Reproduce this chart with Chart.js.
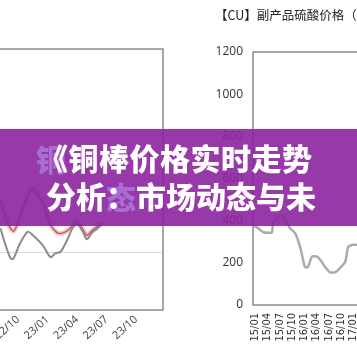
<!DOCTYPE html>
<html>
<head>
<meta charset="utf-8">
<script src="https://cdn.jsdelivr.net/npm/chart.js@4/dist/chart.umd.min.js"></script>
<style>
  html, body { margin: 0; padding: 0; background: #fff; }
  body { width: 357px; height: 357px; overflow: hidden; position: relative; }
  #leftChart { position: absolute; left: -50px; top: 0; }
  #rightChart { position: absolute; left: 180px; top: 0; }
  .banner {
    position: absolute; left: 0; top: 129px; width: 357px; height: 97px;
    background: rgba(140, 36, 160, 0.9);
  }
  .ghost, .line {
    position: absolute; font-family: "Noto Sans CJK SC", sans-serif;
    font-weight: 900; font-size: 30px; line-height: 38px; white-space: nowrap;
  }
  .ghost { color: rgba(178, 128, 222, 0.75); }
  .line { color: #fff; }
</style>
</head>
<body>
<canvas id="leftChart" width="230" height="357"></canvas>
<canvas id="rightChart" width="250" height="357"></canvas>
<div class="banner">
  <span class="ghost" style="left:36px; top:10px;">铜</span>
  <span class="ghost" style="left:106px; top:48px;">态</span>
  <div class="line" style="left:38px; top:9px; letter-spacing:0.5px;">《铜棒价格实时走势</div>
  <div class="line" style="left:46px; top:47px;">分析：市场动态与未</div>
</div>
<script>
// left chart: months counted from 22/01 = 0
const grayMonths = [7.2, 7.5, 8.2, 8.5, 9.2, 10.0, 10.5, 11.5, 12.3, 12.8, 13.3, 14.0, 14.6, 15.1, 15.6, 16.0, 16.5, 17.1, 17.6];
const grayValues = [1410, 1240, 900, 880, 1150, 1350, 1290, 1120, 910, 980, 1000, 1210, 1430, 1470, 1350, 1220, 1330, 1410, 1500];
const redMonths = [7.2, 7.9, 8.5, 8.9, 9.6, 10.4, 11.0, 11.5, 12.3, 13.0, 13.6, 14.3, 14.8, 15.3, 16.0, 16.6, 17.6];
const redValues = [1900, 1520, 1360, 1470, 1810, 2100, 1980, 1850, 1470, 1330, 1330, 1410, 1520, 1470, 1290, 1380, 1500];
const leftTickMonths = [6, 9, 12, 15, 18, 21];
const leftGridValues = [1000];

// right chart: months counted from 15/01 = 0
const acidMonths = [-0.5, 0.7, 2.0, 4.1, 4.4, 5.4, 6.6, 7.8, 8.5, 9.8, 11.0, 11.7, 12.2, 12.9, 13.9, 15.1, 15.9, 17.1, 18.3, 19.5, 20.7, 22.0, 22.7, 23.7, 25.0, 26.0];
const acidValues = [380, 365, 345, 345, 390, 415, 425, 390, 365, 340, 275, 215, 180, 180, 230, 230, 215, 180, 155, 155, 175, 205, 275, 285, 285, 285];
const rightTickMonths = [0, 3, 6, 9, 12, 15, 18, 21, 24, 27, 30, 33, 36, 39, 42];

const pts = (xs, ys) => xs.map((x, i) => ({ x: x, y: ys[i] }));
const monthLabel = (base) => (v) => (base + Math.floor(v / 12)) + '/' + String(v % 12 + 1).padStart(2, '0');

const frame = {
  id: 'frame',
  beforeDatasetsDraw(chart) {
    const a = chart.chartArea;
    const ctx = chart.ctx;
    ctx.save();
    ctx.strokeStyle = '#8a8a8a';
    ctx.lineWidth = 1.5;
    ctx.strokeRect(a.left, a.top, a.right - a.left, a.bottom - a.top);
    ctx.restore();
  }
};

new Chart(document.getElementById('leftChart'), {
  type: 'line',
  data: {
    datasets: [
      { data: pts(grayMonths, grayValues), borderColor: '#8c8c8c', borderWidth: 2, pointRadius: 0, tension: 0.3 },
      { data: pts(redMonths, redValues), borderColor: 'rgba(238, 150, 150, 0.5)', borderWidth: 5, pointRadius: 0, tension: 0.3 },
      { data: pts(redMonths, redValues), borderColor: '#9e1a22', borderWidth: 1.5, pointRadius: 0, tension: 0.3 }
    ]
  },
  options: {
    responsive: false,
    animation: false,
    layout: { padding: { left: 38.6, right: 17, top: 49, bottom: 0 } },
    plugins: { legend: { display: false }, tooltip: { enabled: false } },
    scales: {
      x: {
        type: 'linear', min: 6, max: 23.74,
        afterBuildTicks: (s) => { s.ticks = leftTickMonths.map(v => ({ value: v })); },
        afterFit: (s) => { s.height = 47; s.paddingLeft = 0; s.paddingRight = 0; },
        grid: { display: false, drawTicks: false },
        border: { display: false },
        ticks: {
          autoSkip: false, minRotation: 42, maxRotation: 42, padding: 3,
          color: '#444', font: { family: 'Open Sans', size: 11 },
          callback: monthLabel(22)
        }
      },
      y: {
        min: 0, max: 4500,
        afterBuildTicks: (s) => { s.ticks = leftGridValues.map(v => ({ value: v })); },
        afterFit: (s) => { s.width = 0; },
        grid: { color: '#dcdcdc', drawTicks: false },
        border: { display: false },
        ticks: { display: false }
      }
    }
  },
  plugins: [frame]
});

new Chart(document.getElementById('rightChart'), {
  type: 'line',
  data: {
    datasets: [
      { data: pts(acidMonths, acidValues), borderColor: '#ababab', borderWidth: 2.5, pointRadius: 0, tension: 0.2 }
    ]
  },
  options: {
    responsive: false,
    animation: false,
    layout: { padding: { left: 35, right: 0, top: 0, bottom: 0 } },
    plugins: {
      legend: { display: false },
      tooltip: { enabled: false },
      title: {
        display: true, align: 'start', text: '【CU】副产品硫酸价格（元/吨）',
        color: '#222', font: { family: 'Noto Sans CJK SC', size: 12.5, weight: 'normal', lineHeight: 1.2 },
        padding: { top: 7.5, bottom: 29.5 }
      }
    },
    scales: {
      x: {
        type: 'linear', min: -0.5, max: 42.67,
        afterBuildTicks: (s) => { s.ticks = rightTickMonths.map(v => ({ value: v })); },
        afterFit: (s) => { s.height = 52; s.paddingLeft = 0; s.paddingRight = 0; },
        grid: { display: false, drawTicks: false },
        border: { display: false },
        ticks: {
          autoSkip: false, minRotation: 90, maxRotation: 90, padding: 8,
          color: '#333', font: { family: 'Liberation Sans Narrow, DejaVu Sans Condensed, Liberation Sans', size: 11 },
          callback: monthLabel(15)
        }
      },
      y: {
        min: 0, max: 1200,
        afterFit: (s) => { s.width = 38; },
        grid: { display: false, drawTicks: false },
        border: { display: false },
        ticks: {
          stepSize: 200, padding: 10, color: '#333', font: { family: 'Open Sans', size: 12 },
          callback: (v) => String(v)
        }
      }
    }
  },
  plugins: [frame]
});
</script>
</body>
</html>
